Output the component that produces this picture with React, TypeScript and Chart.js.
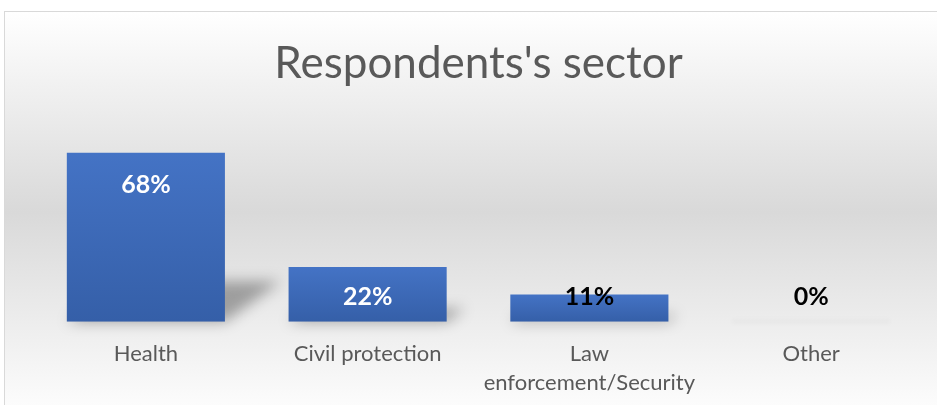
import React, { useEffect, useRef } from 'react';
import { Chart, registerables } from 'chart.js';

Chart.register(...registerables);

const chartTitle = "Respondents's sector";
const categories: string[][] = [['Health'], ['Civil protection'], ['Law', 'enforcement/Security'], ['Other']];
const values: number[] = [68, 22, 11, 0];
const valueLabels: string[] = ['68%', '22%', '11%', '0%'];
const valueLabelColors: string[] = ['#ffffff', '#ffffff', '#000000', '#000000'];

const shadowPlugin = {
  id: 'barShadow',
  beforeDatasetsDraw(chart: any) {
    const ctx = chart.ctx;
    const meta = chart.getDatasetMeta(0);
    meta.data.forEach((el: any) => {
      const { x, y, base, width } = el.getProps(['x', 'y', 'base', 'width'], true);
      const h = base - y;
      const xL = x - width / 2;
      const xR = x + width / 2;
      ctx.save();
      if (h < 1) {
        ctx.filter = 'blur(2px)';
        ctx.fillStyle = 'rgba(0,0,0,0.035)';
        ctx.fillRect(xL, base - 2, width, 3);
      } else {
        const dx = h * 0.33;
        const dy = h * 0.24;
        ctx.filter = 'blur(7px)';
        ctx.fillStyle = 'rgba(0,0,0,0.32)';
        ctx.beginPath();
        ctx.moveTo(xL, base);
        ctx.lineTo(xR, base);
        ctx.lineTo(xR + dx, base - dy);
        ctx.lineTo(xL + dx, base - dy);
        ctx.closePath();
        ctx.fill();
      }
      ctx.restore();
    });
  },
};

const valueLabelPlugin = {
  id: 'valueLabels',
  afterDatasetsDraw(chart: any) {
    const ctx = chart.ctx;
    const meta = chart.getDatasetMeta(0);
    ctx.save();
    ctx.font = 'bold 25px Lato';
    ctx.textAlign = 'center';
    ctx.textBaseline = 'middle';
    meta.data.forEach((el: any, i: number) => {
      const { x, y, base } = el.getProps(['x', 'y', 'base'], true);
      const ly = Math.min(y + 32, base - 25);
      ctx.fillStyle = valueLabelColors[i];
      ctx.fillText(valueLabels[i], x, ly);
    });
    ctx.restore();
  },
};

export default function App() {
  const ref = useRef<HTMLCanvasElement | null>(null);

  useEffect(() => {
    document.body.style.margin = '0';
    const canvas = ref.current;
    if (!canvas) return;
    const chart = new Chart(canvas, {
      type: 'bar',
      data: {
        labels: categories,
        datasets: [
          {
            data: values,
            barPercentage: 0.713,
            categoryPercentage: 1,
            borderWidth: 0,
            backgroundColor: (c: any) => {
              const ch = c.chart;
              const { ctx, chartArea, scales } = ch;
              if (!chartArea || c.dataIndex === undefined || !scales.y) return '#4472c4';
              const top = scales.y.getPixelForValue(c.raw);
              const bottom = scales.y.getPixelForValue(0);
              if (bottom - top < 1) return '#4472c4';
              const g = ctx.createLinearGradient(0, top, 0, bottom);
              g.addColorStop(0, '#4473c5');
              g.addColorStop(1, '#355fa8');
              return g;
            },
          },
        ],
      },
      options: {
        responsive: false,
        animation: false,
        devicePixelRatio: 1,
        layout: { padding: { left: 35, right: 15, top: 0, bottom: 9 } },
        plugins: {
          legend: { display: false },
          tooltip: { enabled: false },
          title: {
            display: true,
            text: chartTitle,
            color: '#595959',
            font: { family: 'Lato', size: 44, weight: '400', lineHeight: 1.2 },
            padding: { top: 37, bottom: 33 },
          },
        },
        scales: {
          x: {
            grid: { display: false, drawTicks: false },
            border: { display: false },
            ticks: {
              color: '#595959',
              font: { family: 'Lato', size: 22, lineHeight: 1.3 },
              padding: 18,
              maxRotation: 0,
              autoSkip: false,
            },
          },
          y: { display: false, min: 0, max: 80 },
        },
      },
      plugins: [shadowPlugin, valueLabelPlugin],
    });
    return () => chart.destroy();
  }, []);

  return (
    <div style={{ position: 'relative', width: 937, height: 405, overflow: 'hidden' }}>
      <div
        style={{
          position: 'absolute',
          left: 4,
          top: 11,
          width: 940,
          height: 400,
          border: '1px solid #d9d9d9',
          background: 'linear-gradient(to bottom, #ffffff 0%, #d9d9d9 50%, #fdfdfd 100%)',
        }}
      />
      <canvas ref={ref} width={937} height={424} style={{ position: 'absolute', left: 0, top: 0 }} />
    </div>
  );
}
